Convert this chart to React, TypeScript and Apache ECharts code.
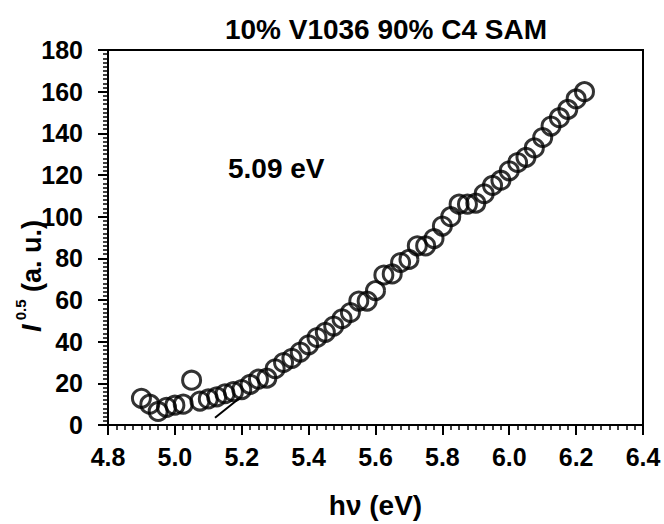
import React, { useEffect, useRef } from "react";
import * as echarts from "echarts";

const photonEnergy: number[] = [
  4.9, 4.925, 4.95, 4.975, 5.0, 5.025, 5.05, 5.075, 5.1, 5.125, 5.15, 5.175, 5.2, 5.225,
  5.25, 5.275, 5.3, 5.325, 5.35, 5.375, 5.4, 5.425, 5.45, 5.475, 5.5, 5.525, 5.55, 5.575,
  5.6, 5.625, 5.65, 5.675, 5.7, 5.725, 5.75, 5.775, 5.8, 5.825, 5.85, 5.875, 5.9, 5.925,
  5.95, 5.975, 6.0, 6.025, 6.05, 6.075, 6.1, 6.125, 6.15, 6.175, 6.2, 6.225,
];
const sqrtYield: number[] = [
  12.8, 10, 6.5, 8.5, 9.5, 10, 21.5, 11.5, 12.5, 13.5, 15, 16, 17, 19.5,
  22, 22.5, 27, 30, 32, 35, 38.5, 42, 44.5, 47.5, 51, 54, 59.5, 59.5,
  64.5, 72, 72.5, 78, 79.5, 86, 86, 89.5, 95.5, 100, 106, 106, 106.5, 111,
  115, 117.5, 122, 126, 128.5, 133, 138, 143.5, 147.5, 151.5, 156.5, 160,
];
const fitLineX: number[] = [5.12, 5.19];
const fitLineY: number[] = [3.5, 12.5];
const thresholdLabel = "5.09 eV";
const chartTitle = "10% V1036 90% C4 SAM";

export default function App() {
  const ref = useRef<HTMLDivElement>(null);
  useEffect(() => {
    if (!ref.current) return;
    const chart = echarts.init(ref.current, null, { renderer: "svg" });
    const font = "'Liberation Sans', Arial, sans-serif";
    chart.setOption({
      animation: false,
      backgroundColor: "#fff",
      title: {
        text: chartTitle,
        left: 381,
        textAlign: "center",
        top: 10,
        textStyle: { fontFamily: font, fontWeight: "bold", fontSize: 28, color: "#000" },
      },
      grid: {
        left: 108,
        right: 21,
        top: 50,
        bottom: 94,
        show: true,
        borderColor: "#000",
        borderWidth: 2,
        backgroundColor: "transparent",
      },
      xAxis: {
        type: "value",
        min: 4.8,
        max: 6.4,
        interval: 0.2,
        name: "hν (eV)",
        nameLocation: "middle",
        nameGap: 66,
        nameTextStyle: { fontFamily: font, fontWeight: "bold", fontSize: 28, color: "#000" },
        axisLine: { show: true, onZero: false, lineStyle: { color: "#000", width: 2 } },
        axisTick: { show: true, inside: false, length: 10, lineStyle: { color: "#000", width: 2 } },
        minorTick: { show: true, splitNumber: 8, length: 5, lineStyle: { color: "#000", width: 1.5 } },
        splitLine: { show: false },
        axisLabel: {
          margin: 19,
          fontFamily: font,
          fontWeight: "bold",
          fontSize: 25,
          color: "#000",
          formatter: (v: number) => v.toFixed(1),
        },
      },
      yAxis: {
        type: "value",
        min: 0,
        max: 180,
        interval: 20,
        axisLine: { show: true, onZero: false, lineStyle: { color: "#000", width: 2 } },
        axisTick: { show: true, inside: false, length: 10, lineStyle: { color: "#000", width: 2 } },
        minorTick: { show: true, splitNumber: 10, length: 5, lineStyle: { color: "#000", width: 1.5 } },
        splitLine: { show: false },
        axisLabel: { margin: 25, fontFamily: font, fontWeight: "bold", fontSize: 25, color: "#000" },
      },
      series: [
        {
          type: "scatter",
          symbol: "circle",
          symbolSize: 18,
          data: photonEnergy.map((e, i) => [e, sqrtYield[i]]),
          itemStyle: { color: "rgba(0,0,0,0)", borderColor: "#000", borderWidth: 3 },
        },
        {
          type: "line",
          data: fitLineX.map((e, i) => [e, fitLineY[i]]),
          symbol: "none",
          lineStyle: { color: "#000", width: 2 },
        },
      ],
      graphic: [
        {
          type: "text",
          x: 228,
          y: 168,
          style: {
            text: thresholdLabel,
            fontFamily: font,
            fontWeight: "bold",
            fontSize: 28,
            fill: "#000",
            align: "left",
            verticalAlign: "middle",
          },
        },
        {
          type: "text",
          x: 26,
          y: 276,
          rotation: Math.PI / 2,
          style: {
            text: "{i|I}{s| 0.5}{n| (a. u.)}",
            align: "center",
            verticalAlign: "middle",
            fill: "#000",
            rich: {
              i: { fontFamily: font, fontWeight: "bold", fontStyle: "italic", fontSize: 27, fill: "#000", verticalAlign: "bottom", height: 28 },
              s: { fontFamily: font, fontWeight: "bold", fontSize: 15, fill: "#000", verticalAlign: "top", height: 28, padding: [0, 0, 12, 0] },
              n: { fontFamily: font, fontWeight: "bold", fontSize: 27, fill: "#000", verticalAlign: "bottom", height: 28 },
            },
          },
        },
      ],
    });
    return () => chart.dispose();
  }, []);
  return <div ref={ref} style={{ width: 664, height: 524, position: "absolute", left: 0, top: 0 }} />;
}
